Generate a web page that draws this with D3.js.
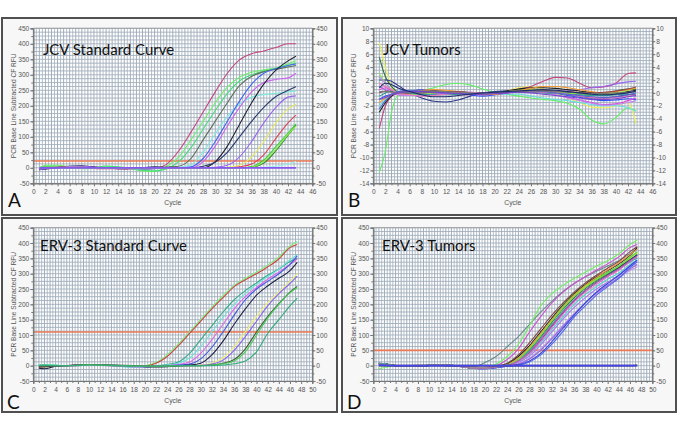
<!DOCTYPE html>
<html><head><meta charset="utf-8">
<script src="https://cdn.jsdelivr.net/npm/d3@7"></script>
<style>body{margin:0;background:#fff}svg{display:block}</style>
</head><body>
<svg id="c" width="685" height="444"></svg>
<script>
// ---------------- DATA ----------------
const titles = ["JCV Standard Curve", "JCV Tumors", "ERV-3 Standard Curve", "ERV-3 Tumors"];
const letters = ["A", "B", "C", "D"];
const yTitle = "PCR Base Line Subtracted CF RFU";
const xTitle = "Cycle";
const thresholds = [22, null, 110, 50];

const xTicksA = [0,2,4,6,8,10,12,14,16,18,20,22,24,26,28,30,32,34,36,38,40,42,44,46];
const xTicksC = [0,2,4,6,8,10,12,14,16,18,20,22,24,26,28,30,32,34,36,38,40,42,44,46,48,50];
const yTicksRFU = [-50,0,50,100,150,200,250,300,350,400,450];
const yTicksB = [-14,-12,-10,-8,-6,-4,-2,0,2,4,6,8,10];

// Panel A – JCV standard curve
const cyclesA = [1,2,4,6,8,10,12,14,16,18,20,22,24,26,28,30,32,34,36,38,40,42,43.3];
const valuesA = [
  [-8,0,3,2,0,-2,-3,-3,-4,-5,-2,12,55,115,180,245,305,348,368,377,388,400,400],
  [-5,8,8,3,-3,-2,5,2,-3,-10,-12,5,35,90,150,210,260,292,308,316,322,335,345],
  [0,5,4,0,-2,0,6,3,-2,-8,-10,-3,20,65,125,185,240,280,300,312,320,330,338],
  [-3,-2,2,3,2,0,-1,0,-2,-3,0,2,5,30,90,150,210,265,295,310,318,325,330],
  [2,3,2,0,-2,-1,0,0,-3,-4,-2,0,2,10,50,110,165,205,228,236,240,245,248],
  [-5,-3,0,5,5,2,0,-2,-2,-3,-3,0,0,3,30,85,150,215,270,305,320,330,335],
  [0,2,2,4,3,0,-1,-2,-3,-2,-1,0,0,0,20,70,135,195,245,275,285,290,305],
  [-3,-4,0,4,6,2,-1,-3,-2,0,2,2,1,0,0,20,70,140,210,270,315,345,360],
  [-4,-3,1,5,6,3,0,-2,-1,0,3,1,0,0,5,18,50,100,150,195,230,250,262],
  [-6,-2,0,4,5,2,-1,-3,-2,-1,0,0,0,0,0,2,8,35,85,145,195,228,232],
  [0,1,1,2,2,0,0,0,-1,-1,0,0,0,0,0,0,2,8,35,85,145,190,205],
  [0,1,2,1,1,0,0,0,-1,-1,0,0,0,0,0,0,0,3,12,42,95,145,170],
  [2,3,2,0,0,0,0,0,0,-1,0,0,0,0,0,0,0,0,4,25,68,112,142],
  [1,1,1,0,0,0,0,0,0,0,0,0,0,0,0,0,0,0,2,15,55,105,137],
  [0,2,1,0,0,0,0,0,0,0,0,0,0,0,0,0,0,0,2,20,60,108,135],
  [0,0,0,0,0,0,0,0,0,0,0,0,0,0,0,0,0,0,0,2,5,12,20],
  [0,0,0,0,0,0,0,0,0,0,0,0,0,0,0,0,0,0,0,0,0,0,0]
];
const colorsA = ["#c2477f","#6af06a","#44dd77","#5b705b","#80e8e0","#4466ee","#cc66ee","#222233","#2a3a6a","#9966ee","#e8e860","#dd4455","#44cc44","#2f7f3a","#88ee44","#99eeee","#8855ee"];

// Panel B – JCV tumors
const cyclesB = [1,2,3,4,6,8,10,12,14,16,18,20,22,24,26,28,30,32,34,36,38,40,42,43.3];
const valuesB = [
  [-12.3,-9,-3,-0.5,0,0.3,0.8,1.3,1.5,1.2,0.6,0.1,-0.2,-0.5,-0.8,-1,-1.2,-1.6,-2.5,-4.2,-4.8,-3.8,-2.3,-2.8],
  [7.8,4,1,0,0.3,0.5,0.5,0.3,0.2,0,-0.3,-0.2,0.3,0.8,1,0.6,0,-0.8,-1.5,-2.2,-2.3,-2,-1.5,-4.8],
  [-5.5,-2,-0.5,0,0.2,0.3,0.2,0,-0.2,-0.3,-0.2,0,0.3,0.6,1,1.8,2.4,2.3,1.5,0.8,0.9,1.5,3,3.1],
  [5.5,2.5,1,0.2,0,-0.2,-0.1,0.1,0.2,0,-0.3,-0.1,0.2,0.5,0.6,0.4,0.2,0,-0.2,-0.3,0,0.3,0.6,0.5],
  [2,2,1.8,1.2,0,-0.8,-1.3,-1.4,-1.1,-0.5,0,0.2,0.3,0.4,0.5,0.3,0,-0.3,-0.5,-0.8,-0.8,-0.6,-0.3,-0.2],
  [-2,-1,-0.3,0,0.2,0.3,0.3,0.2,0,-0.2,-0.3,-0.3,-0.2,-0.2,-0.5,-0.8,-1,-1.2,-1.5,-1.8,-2,-2,-2.3,-2.8],
  [1,0.5,0.2,0,-0.2,-0.3,-0.2,0,0.2,0.1,-0.2,-0.3,0,0.3,0.4,0.3,0.2,0.3,0.5,0.8,1,1.4,1.7,1.8],
  [-1,-0.5,-0.2,0,0.3,0.5,0.4,0.2,0,-0.3,-0.5,-0.3,0,0.3,0.4,0.3,0,-0.4,-0.7,-1,-1.2,-1.1,-0.9,-1],
  [0.5,0.8,0.3,-0.3,-0.4,-0.2,0,0.1,0,-0.2,-0.3,-0.2,0,0.2,0.3,0.1,-0.3,-0.7,-1.1,-1.5,-1.8,-1.7,-1.2,-0.8],
  [-3,-1.5,-0.5,0,0.2,0.3,0.3,0.2,0,-0.2,-0.2,0,0.3,0.6,0.8,0.8,0.7,0.5,0.3,0,-0.2,-0.1,0.2,0.4],
  [3,1.5,0.5,0,-0.2,-0.2,0,0.1,0.1,0,-0.1,0,0.2,0.4,0.5,0.4,0.2,0,-0.2,-0.3,-0.2,0,0.4,0.8],
  [-1.5,-0.8,-0.3,0,0.2,0.4,0.5,0.4,0.2,0,-0.2,-0.2,0,0.3,0.7,1,1,0.8,0.5,0.2,0,0.2,0.5,0.7],
  [2.5,1.5,0.5,-0.2,-0.4,-0.4,-0.3,-0.2,-0.1,-0.1,-0.1,0,0.2,0.3,0.2,0,-0.3,-0.8,-1.2,-1.6,-1.9,-1.8,-1.5,-1.2],
  [0,0.3,0.2,0,-0.1,0,0.1,0.2,0.2,0,-0.1,0,0.2,0.3,0.4,0.4,0.3,0.2,0.1,0,0.1,0.3,0.6,0.9],
  [-0.5,0,0.3,0.2,0,-0.2,-0.3,-0.3,-0.2,-0.1,0,0.1,0.2,0.2,0.1,0,-0.1,-0.2,-0.3,-0.4,-0.4,-0.3,-0.2,-0.5],
  [1.5,1,0.5,0,-0.3,-0.5,-0.4,-0.2,0,0.1,0,-0.1,0,0.1,0.2,0.1,0,-0.2,-0.5,-0.7,-0.8,-0.7,-0.5,-0.3],
  [-2.5,-1.2,-0.3,0.2,0.4,0.3,0.1,0,-0.1,-0.2,-0.2,-0.1,0,0.2,0.3,0.2,0,-0.2,-0.4,-0.6,-0.7,-0.6,-0.3,0],
  [0.2,0.2,0.1,0,0,0.1,0.2,0.2,0.1,0,-0.1,0,0.1,0.2,0.3,0.3,0.2,0.1,0,-0.1,-0.1,0,0.1,0.2],
  [-1,-0.7,-0.3,0,0.2,0.2,0.1,0,-0.1,-0.2,-0.2,-0.1,0,0.1,0,-0.2,-0.4,-0.6,-0.8,-1,-1,-0.9,-0.6,-0.4],
  [0.8,1.5,1.3,0.8,0.2,-0.3,-0.6,-0.6,-0.4,-0.2,0,0.1,0.2,0.3,0.4,0.5,0.4,0.2,0,-0.2,-0.3,-0.2,0,0.3]
];
const colorsB = ["#66ee66","#eeee55","#c04a80","#2f6f3a","#333a88","#66dddd","#9966ee","#3355ee","#dd44dd","#222222","#88ee44","#ee9933","#bb88ee","#994444","#339999","#ee77bb","#5566cc","#777777","#7744cc","#1a2a6a"];

// Panel C – ERV-3 standard curve
const cyclesC = [1,2,4,6,8,10,12,14,16,18,20,22,24,26,28,30,32,34,36,38,40,42,44,46,47.3];
const valuesC = [
  [2,3,0,-1,0,2,1,0,-2,-4,0,10,35,70,110,150,190,228,262,285,305,328,355,390,405],
  [-5,-3,0,0,2,3,1,0,-2,-3,-1,8,30,65,105,145,185,222,258,280,300,322,348,385,395],
  [0,2,1,0,1,3,2,0,-2,-5,-3,0,4,12,40,85,130,175,215,245,270,295,315,340,350],
  [3,4,2,0,0,2,1,0,-3,-6,-5,-2,2,8,25,62,110,158,200,235,265,290,315,345,362],
  [0,0,-1,-2,0,2,1,0,-1,-4,-4,-2,0,4,12,40,85,135,185,225,255,282,305,330,348],
  [-2,-1,0,0,2,4,3,1,0,-2,-3,-2,0,2,5,22,60,110,165,215,250,275,300,330,358],
  [-8,-10,-2,0,2,4,3,1,0,-1,-3,-4,-3,0,2,8,35,80,135,185,230,260,285,310,337],
  [0,0,0,0,1,2,2,1,0,-1,-2,-2,-1,0,0,2,8,25,62,110,160,205,240,275,300],
  [0,1,0,0,1,2,2,1,0,-1,-2,-2,-1,0,0,1,5,18,50,95,145,195,235,268,292],
  [-3,-4,-1,0,2,4,3,2,1,0,-1,-2,-2,-1,0,0,2,8,20,55,110,160,202,240,258],
  [1,2,1,0,1,3,2,1,0,-1,-2,-2,-1,0,0,0,2,6,15,45,100,155,200,238,255],
  [0,1,0,0,1,2,2,1,0,-1,-1,-1,-1,0,0,0,0,2,6,15,45,105,150,195,220]
];
const colorsC = ["#77ee77","#cc4444","#33aa88","#70e0e0","#dd66ee","#4455dd","#222244","#eeee77","#8866ee","#4a5a3a","#44cc55","#33aa77"];

// Panel D – ERV-3 tumors
const cyclesD = [1,2,4,8,12,16,18,20,22,24,26,28,30,32,34,36,38,40,42,44,46,47.3];
const valuesD = [
  [5,6,0,0,2,-2,-3,10,30,62,95,135,175,210,242,268,290,308,325,342,365,380],
  [-10,-6,0,0,2,-2,-6,-5,5,30,70,130,195,235,262,285,305,325,342,365,395,410],
  [4,5,0,1,2,-3,-8,-6,0,20,55,110,160,205,240,268,290,312,332,355,385,395],
  [6,5,0,0,1,-3,-9,-8,-3,8,35,75,120,165,205,240,270,295,318,340,372,388],
  [8,7,0,0,2,-2,-8,-8,-4,5,30,65,110,155,198,235,265,290,310,332,360,385],
  [5,4,0,0,2,-3,-9,-9,-4,3,25,60,105,150,195,232,262,285,305,325,352,370],
  [3,4,0,1,2,-2,-8,-8,-4,2,22,58,100,148,190,228,258,282,302,322,350,368],
  [6,5,0,0,1,-3,-9,-9,-5,2,20,52,95,142,185,222,252,278,300,320,345,360],
  [4,5,0,0,2,-2,-7,-8,-4,2,18,48,90,135,178,215,246,272,295,315,338,352],
  [5,5,0,0,2,-2,-8,-8,-4,3,25,60,105,150,192,230,262,288,312,335,362,380],
  [7,6,0,0,1,-3,-9,-9,-5,1,15,42,82,128,172,212,245,272,296,318,345,362],
  [3,4,0,0,2,-2,-8,-9,-5,1,12,38,75,118,160,200,232,258,282,302,330,345],
  [5,4,0,0,1,-3,-9,-9,-5,1,10,32,68,110,152,190,222,250,272,295,325,340],
  [4,4,0,0,1,-3,-8,-9,-6,0,6,25,55,92,132,170,205,235,260,285,310,322],
  [6,5,0,0,1,-3,-9,-10,-6,0,5,22,50,88,128,168,205,238,262,288,315,330],
  [8,6,0,0,2,-2,-8,-10,-7,-2,3,15,40,78,122,165,205,240,268,295,325,345],
  [5,5,0,0,2,-2,-8,-10,-7,-2,2,12,35,70,112,158,195,230,258,285,320,338],
  [4,4,0,0,2,-2,-7,-8,-4,1,14,40,80,125,168,208,240,265,290,312,340,355],
  [5,5,0,0,2,-2,-8,-8,-4,2,20,55,98,145,188,225,255,280,302,325,355,372],
  [3,3,0,0,1,-2,-8,-8,-4,1,16,45,88,132,175,214,246,272,294,316,342,358],
  [0,0,0,0,0,0,0,0,0,0,0,0,0,0,0,0,0,0,0,0,0,1],
  [2,1,0,0,0,0,0,0,0,0,0,0,0,0,0,0,0,0,0,0,0,0]
];
const colorsD = ["#6a8a8a","#77ee66","#cc55cc","#884444","#222222","#33bb33","#aadd22","#226622","#22aaaa","#ee9944","#223388","#55cccc","#aa77ee","#bb99ee","#9966dd","#3344dd","#5566ee","#ee66cc","#77dd55","#aa66aa","#333333","#4444ee"];

// ---------------- LAYOUT ----------------
const svg = d3.select("#c");
const TICKFONT = "'Liberation Sans', Arial, sans-serif";
const TITLEFONT = "Lato, 'Open Sans', sans-serif";

const panels = [
  {box:[2,18,335,197], plot:[33.3,312.3,28.3,183.3], xd:[0,46], yd:[-50,450], xt:xTicksA, yt:yTicksRFU, yMinor:25, yGrid:12.5, cyc:cyclesA, vals:valuesA, cols:colorsA, title:[43,55], letter:[8,207], cycleY:204.5},
  {box:[342,18,334,197], plot:[373.3,652.3,28.3,183.3], xd:[0,46], yd:[-14,10], xt:xTicksA, yt:yTicksB, yMinor:1, yGrid:0.5, cyc:cyclesB, vals:valuesB, cols:colorsB, title:[383,55], letter:[348,207], cycleY:204.5},
  {box:[2,218,335,194], plot:[33.3,312.3,227.7,381], xd:[0,50], yd:[-50,450], xt:xTicksC, yt:yTicksRFU, yMinor:25, yGrid:12.5, cyc:cyclesC, vals:valuesC, cols:colorsC, title:[40,251], letter:[7,409], cycleY:403},
  {box:[342,218,334,194], plot:[373.3,652.3,227.7,381], xd:[0,50], yd:[-50,450], xt:xTicksC, yt:yTicksRFU, yMinor:25, yGrid:12.5, cyc:cyclesD, vals:valuesD, cols:colorsD, title:[382,251], letter:[347,409], cycleY:403}
];

panels.forEach((p, pi) => {
  const g = svg.append("g");
  g.append("rect").attr("x", p.box[0]).attr("y", p.box[1]).attr("width", p.box[2]).attr("height", p.box[3])
    .attr("fill", "#f7f7f7").attr("stroke", "#505050").attr("stroke-width", 2);
  const x = d3.scaleLinear().domain(p.xd).range([p.plot[0], p.plot[1]]);
  const y = d3.scaleLinear().domain(p.yd).range([p.plot[3], p.plot[2]]);
  const [x0, x1, yT, yB] = p.plot;
  g.append("rect").attr("x", x0).attr("y", yT).attr("width", x1 - x0).attr("height", yB - yT).attr("fill", "#fff");

  // grid
  const vg = d3.range(p.xd[0], p.xd[1] + 1e-6, 0.5);
  g.append("g").selectAll("line").data(vg).join("line")
    .attr("x1", d => x(d)).attr("x2", d => x(d)).attr("y1", yT).attr("y2", yB)
    .attr("stroke", d => (d % 1 === 0 ? "#8f9eae" : "#aab6c2")).attr("stroke-width", 0.85);
  const hg = d3.range(p.yd[0], p.yd[1] + 1e-6, p.yGrid);
  g.append("g").selectAll("line").data(hg).join("line")
    .attr("x1", x0).attr("x2", x1).attr("y1", d => y(d)).attr("y2", d => y(d))
    .attr("stroke", "#9eabb9").attr("stroke-width", 0.85);

  // clip
  const cid = "clip" + pi;
  svg.append("clipPath").attr("id", cid).append("rect").attr("x", x0).attr("y", yT).attr("width", x1 - x0).attr("height", yB - yT);

  // threshold
  if (thresholds[pi] !== null) {
    g.append("line").attr("x1", x0).attr("x2", x1).attr("y1", y(thresholds[pi])).attr("y2", y(thresholds[pi]))
      .attr("stroke", "#ec7a55").attr("stroke-width", 1.6);
  }

  // curves
  const line = d3.line().x((d, i) => x(p.cyc[i])).y(d => y(d)).curve(d3.curveMonotoneX);
  const cg = g.append("g").attr("clip-path", `url(#${cid})`);
  p.vals.forEach((vals, si) => {
    const isFlat = vals.every(v => Math.abs(v) < 3) && pi !== 1;
    cg.append("path").attr("d", line(vals)).attr("fill", "none")
      .attr("stroke", p.cols[si]).attr("stroke-width", isFlat ? 1.8 : 1.1).attr("stroke-linejoin", "round");
  });

  // axes
  const styleAxis = (ag) => {
    ag.selectAll("path.domain").attr("stroke", "#777");
    ag.selectAll("line").attr("stroke", "#777");
    ag.selectAll("text").attr("fill", "#555").style("font-family", TICKFONT).style("font-size", "6.6px");
  };
  const fmt = d => String(d);
  const minorY = d3.range(p.yd[0], p.yd[1] + 1e-6, p.yMinor);
  const aL = g.append("g").attr("transform", `translate(${x0},0)`).call(d3.axisLeft(y).tickValues(p.yt).tickSize(3).tickPadding(1).tickFormat(fmt));
  styleAxis(aL);
  const aLm = g.append("g").attr("transform", `translate(${x0},0)`).call(d3.axisLeft(y).tickValues(minorY).tickSize(2).tickFormat(""));
  styleAxis(aLm);
  const aR = g.append("g").attr("transform", `translate(${x1},0)`).call(d3.axisRight(y).tickValues(p.yt).tickSize(3).tickPadding(1).tickFormat(fmt));
  styleAxis(aR);
  const aRm = g.append("g").attr("transform", `translate(${x1},0)`).call(d3.axisRight(y).tickValues(minorY).tickSize(2).tickFormat(""));
  styleAxis(aRm);
  const aB = g.append("g").attr("transform", `translate(0,${yB})`).call(d3.axisBottom(x).tickValues(p.xt).tickSize(3).tickPadding(3).tickFormat(fmt));
  styleAxis(aB);
  const minorX = d3.range(p.xd[0] + 1, p.xd[1], 2);
  const aBm = g.append("g").attr("transform", `translate(0,${yB})`).call(d3.axisBottom(x).tickValues(minorX).tickSize(2).tickFormat(""));
  styleAxis(aBm);
  g.append("line").attr("x1", x0).attr("x2", x1).attr("y1", yT).attr("y2", yT).attr("stroke", "#999").attr("stroke-width", 0.8);

  // labels
  g.append("text").attr("x", (x0 + x1) / 2).attr("y", p.cycleY).attr("text-anchor", "middle")
    .style("font-family", TICKFONT).style("font-size", "6.8px").attr("fill", "#555").text(xTitle);
  g.append("text").attr("transform", `translate(${p.box[0] + 13.5},${(yT + yB) / 2}) rotate(-90)`).attr("text-anchor", "middle")
    .style("font-family", TICKFONT).style("font-size", "6.6px").attr("fill", "#555").text(yTitle);
  g.append("text").attr("x", p.title[0]).attr("y", p.title[1])
    .style("font-family", TITLEFONT).style("font-size", "15px").attr("fill", "#111").text(titles[pi]);
  g.append("text").attr("x", p.letter[0]).attr("y", p.letter[1])
    .style("font-family", TITLEFONT).style("font-size", "19px").attr("fill", "#111").text(letters[pi]);
});
</script>
</body></html>
